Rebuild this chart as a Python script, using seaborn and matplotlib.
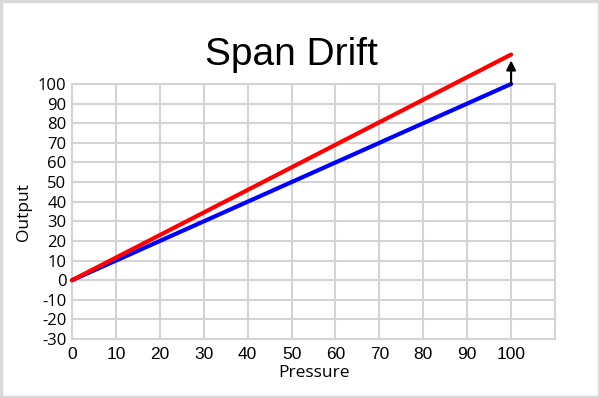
import seaborn as sns
import matplotlib.pyplot as plt
import pandas as pd
from matplotlib.patches import Rectangle

# datos del grafico
pressure = [0, 100]
output_ideal = [0, 100]
output_drift = [0, 115]
x_ticks = [0, 10, 20, 30, 40, 50, 60, 70, 80, 90, 100, 110]
x_labels = ['0', '10', '20', '30', '40', '50', '60', '70', '80', '90', '100', '']
y_ticks = [-30, -20, -10, 0, 10, 20, 30, 40, 50, 60, 70, 80, 90, 100]

df = pd.DataFrame({'Pressure': pressure, 'ideal': output_ideal, 'drift': output_drift})

sns.set_style('white')
plt.rcParams['text.color'] = 'black'
plt.rcParams['axes.labelcolor'] = 'black'
plt.rcParams['xtick.color'] = 'black'
plt.rcParams['ytick.color'] = 'black'
grid_color = '#d4d4d4'

fig = plt.figure(figsize=(6, 3.98), dpi=100)
ax = fig.add_axes([0.12, 0.148, 0.805, 0.641])

sns.lineplot(data=df, x='Pressure', y='ideal', color='#0000ff', linewidth=3, ax=ax, clip_on=False, zorder=3)
sns.lineplot(data=df, x='Pressure', y='drift', color='#ff0000', linewidth=3, ax=ax, clip_on=False, zorder=4)

# flecha de la deriva
ax.annotate('', xy=(100, 112), xytext=(100, 100),
            arrowprops=dict(arrowstyle='-|>', color='black', lw=1.5, mutation_scale=14,
                            shrinkA=0, shrinkB=0), annotation_clip=False, zorder=5)

ax.set_xlim(0, 110)
ax.set_ylim(-30, 100)
ax.set_xticks(x_ticks)
ax.set_xticklabels(x_labels, family='Liberation Sans', fontsize=12.5, color='black')
ax.set_yticks(y_ticks)
ax.set_yticklabels([str(v) for v in y_ticks], family='Open Sans', fontsize=12, color='black')
ax.tick_params(length=0)
ax.tick_params(axis='y', pad=4)
ax.tick_params(axis='x', pad=6)
ax.grid(True, color=grid_color, linewidth=1.5)
for s in ax.spines.values():
    s.set_color(grid_color)
    s.set_linewidth(1.5)

ax.set_xlabel('Pressure', family='Open Sans', fontsize=12.5, labelpad=2, color='black')
ax.set_ylabel('Output', family='Open Sans', fontsize=12.5, labelpad=4, color='black')

fig.text(0.485, 0.862, 'Span Drift', family='Liberation Sans', fontsize=28,
         ha='center', va='center', color='black')

# marco exterior
fig.patches.append(Rectangle((0.002, 0.003), 0.996, 0.994, transform=fig.transFigure,
                             fill=False, edgecolor='#d9d9d9', linewidth=2.5))

fig.savefig('out.png', dpi=100)
